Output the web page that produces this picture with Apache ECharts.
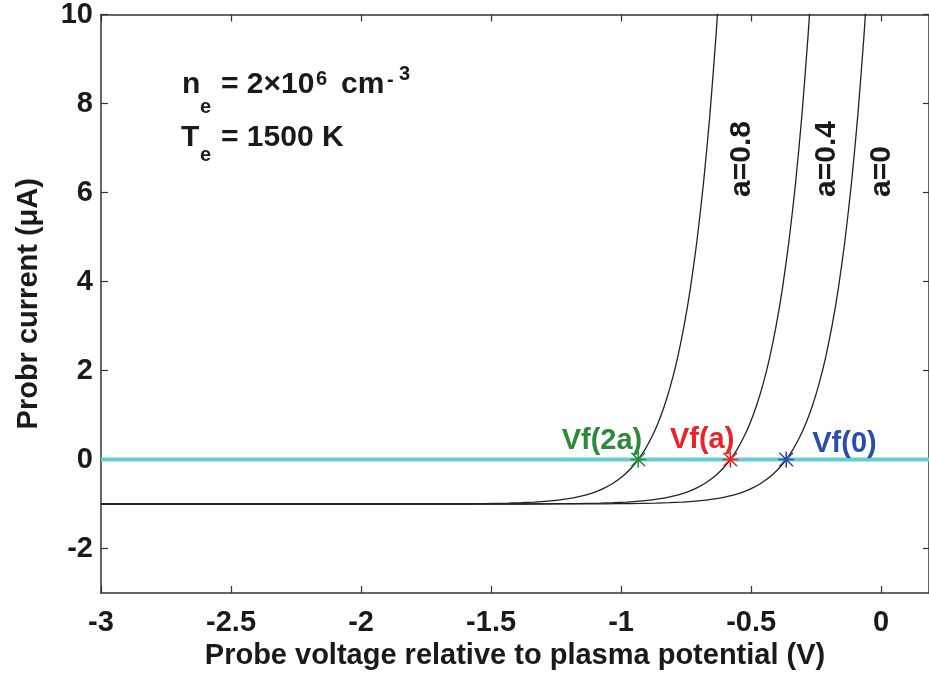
<!DOCTYPE html>
<html>
<head>
<meta charset="utf-8">
<script src="https://cdn.jsdelivr.net/npm/echarts@6/dist/echarts.min.js"></script>
<style>
html,body{margin:0;padding:0;background:#fff;}
#c{width:929px;height:684px;}
</style>
</head>
<body>
<div id="c"></div>
<script>
// ---- data ----
const xTickValues = [-3, -2.5, -2, -1.5, -1, -0.5, 0];
const yTickValues = [-2, 0, 2, 4, 6, 8, 10];

// probe current values (uA)
const curveI = [-1, -1.000, -0.998, -0.996, -0.991, -0.981, -0.971, -0.957, -0.937, -0.906, -0.885, -0.860, -0.830, -0.793, -0.748, -0.693, -0.626, -0.545, -0.446, -0.325, -0.179, 0, 0.218, 0.482, 0.805, 1.197, 1.676, 2.258, 2.967, 3.830, 4.882, 6.162, 7.717, 9.61, 11.43];
// a = 0 curve voltages
const curveA0_V = [-3, -1.365, -1.165, -1.065, -0.965, -0.865, -0.815, -0.765, -0.715, -0.665, -0.64, -0.615, -0.59, -0.565, -0.54, -0.515, -0.49, -0.465, -0.44, -0.415, -0.39, -0.365, -0.34, -0.315, -0.29, -0.265, -0.24, -0.215, -0.19, -0.165, -0.14, -0.115, -0.09, -0.065, -0.045];
// a = 0.4 curve voltages
const curveA04_V = [-3, -1.58, -1.38, -1.28, -1.18, -1.08, -1.03, -0.98, -0.93, -0.88, -0.855, -0.83, -0.805, -0.78, -0.755, -0.73, -0.705, -0.68, -0.655, -0.63, -0.605, -0.58, -0.555, -0.53, -0.505, -0.48, -0.455, -0.43, -0.405, -0.38, -0.355, -0.33, -0.305, -0.28, -0.26];
// a = 0.8 curve voltages
const curveA08_V = [-3, -1.934, -1.734, -1.634, -1.534, -1.434, -1.384, -1.334, -1.284, -1.234, -1.209, -1.184, -1.159, -1.134, -1.109, -1.084, -1.059, -1.034, -1.009, -0.984, -0.959, -0.934, -0.909, -0.884, -0.859, -0.834, -0.809, -0.784, -0.759, -0.734, -0.709, -0.684, -0.659, -0.634, -0.614];

// zero-current reference line
const zeroLineV = [-3, 0.184];
const zeroLineI = [0, 0];

// floating potentials
const vfNames = ['Vf(2a)', 'Vf(a)', 'Vf(0)'];
const vfV = [-0.934, -0.58, -0.365];
const vfI = [0, 0, 0];

const curveLabels = ['a=0.8', 'a=0.4', 'a=0'];
// ---------------------------------------

const zip = (a, b) => a.map((v, i) => [v, b[i]]);
const FONT = '"Liberation Sans", Arial, Helvetica, sans-serif';
const TXT = '#1a1a1a';
const AX = '#333';
const star = 'path://M9 0H11V20H9Z M0 9H20V11H0Z M2.2 0.8L19.2 17.8L17.8 19.2L0.8 2.2Z M17.8 0.8L19.2 2.2L2.2 19.2L0.8 17.8Z';

const chart = echarts.init(document.getElementById('c'), null, {renderer: 'canvas'});

const tickStyle = {fontSize: 29, fontWeight: 'bold', fontFamily: FONT, color: TXT};

function curveSeries(name, V, I) {
  return {
    name: name, type: 'line', data: zip(V, I), showSymbol: false,
    smooth: 0.2, clip: true, z: 3,
    lineStyle: {color: '#222', width: 1.3}
  };
}
function vfSeries(i, color, pos, align) {
  return {
    type: 'scatter', data: [[vfV[i], vfI[i]]], symbol: star, symbolSize: 16, z: 5,
    itemStyle: {color: color, opacity: 1},
    label: {
      show: true, formatter: vfNames[i], position: pos, align: align, verticalAlign: 'middle',
      color: color, opacity: 1, fontSize: 29, fontWeight: 'bold', fontFamily: FONT
    }
  };
}
function txt(x, y, text, size, extra) {
  return Object.assign({type: 'text', x: x, y: y, style: {
    text: text, font: 'bold ' + size + 'px ' + FONT, fill: TXT,
    align: 'left', textAlign: 'left', verticalAlign: 'middle', textVerticalAlign: 'middle'
  }}, extra || {});
}

chart.setOption({
  animation: false,
  backgroundColor: '#fff',
  grid: {left: 101, right: -1, top: 13, bottom: 91, containLabel: false},
  xAxis: [{
    type: 'value', min: -3, max: 0.184, position: 'bottom',
    axisLine: {show: true, onZero: false, lineStyle: {color: AX, width: 1.5}},
    axisTick: {show: true, inside: true, length: 7, customValues: xTickValues, lineStyle: {color: AX, width: 1.2}},
    axisLabel: Object.assign({margin: 15, customValues: xTickValues, formatter: v => String(v)}, tickStyle),
    splitLine: {show: false},
    name: 'Probe voltage relative to plasma potential (V)',
    nameLocation: 'middle', nameGap: 47,
    nameTextStyle: {fontSize: 29, fontWeight: 'bold', fontFamily: FONT, color: TXT}
  }, {
    type: 'value', min: -3, max: 0.184, position: 'top',
    axisLine: {show: true, onZero: false, lineStyle: {color: AX, width: 1.5}},
    axisTick: {show: true, inside: true, length: 7, customValues: xTickValues, lineStyle: {color: AX, width: 1.2}},
    axisLabel: {show: false}, splitLine: {show: false}
  }],
  yAxis: [{
    type: 'value', min: -3, max: 10, position: 'left',
    axisLine: {show: true, onZero: false, lineStyle: {color: AX, width: 1.5}},
    axisTick: {show: true, inside: true, length: 7, customValues: yTickValues, lineStyle: {color: AX, width: 1.2}},
    axisLabel: Object.assign({margin: 8, customValues: yTickValues}, tickStyle),
    splitLine: {show: false},
    name: 'Probr current (μA)', nameLocation: 'middle', nameGap: 58,
    nameTextStyle: {fontSize: 29, fontWeight: 'bold', fontFamily: FONT, color: TXT}
  }, {
    type: 'value', min: -3, max: 10, position: 'right',
    axisLine: {show: true, onZero: false, lineStyle: {color: AX, width: 1.5}},
    axisTick: {show: true, inside: true, length: 6, customValues: yTickValues, lineStyle: {color: AX, width: 1.2}},
    axisLabel: {show: false}, splitLine: {show: false}
  }],
  series: [
    {type: 'line', data: zip(zeroLineV, zeroLineI), showSymbol: false, z: 2,
     lineStyle: {color: '#66cdd0', width: 4}},
    curveSeries(curveLabels[2], curveA0_V, curveI),
    curveSeries(curveLabels[1], curveA04_V, curveI),
    curveSeries(curveLabels[0], curveA08_V, curveI),
    vfSeries(0, '#2a8a3a', [12, -11], 'right'),
    vfSeries(1, '#ec2229', [12, -12], 'right'),
    vfSeries(2, '#2c4caa', [34, -8], 'left')
  ],
  graphic: [
    // n_e = 2x10^6 cm^-3
    txt(182, 85, 'n', 30),
    txt(200, 107, 'e', 20),
    txt(221, 85, '= 2×10', 30),
    txt(316, 79, '6', 20),
    txt(341, 85, 'cm', 30),
    txt(387, 80, '-', 20),
    txt(399, 74, '3', 20),
    // T_e = 1500 K
    txt(181, 138, 'T', 30),
    txt(200, 155, 'e', 20),
    txt(221, 138, '= 1500 K', 30),
    // curve labels (rotated)
    txt(742, 197, curveLabels[0], 30, {rotation: Math.PI / 2}),
    txt(827, 197, curveLabels[1], 30, {rotation: Math.PI / 2}),
    txt(882, 197, curveLabels[2], 30, {rotation: Math.PI / 2})
  ]
});
</script>
</body>
</html>
